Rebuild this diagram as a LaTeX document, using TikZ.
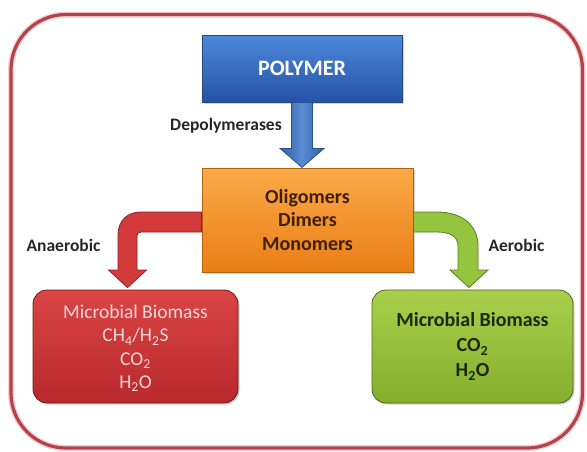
\documentclass[tikz,border=0pt]{standalone}
\usepackage{fontspec}
\setmainfont{Carlito}
\usetikzlibrary{calc,shadows}
\definecolor{frameRed}{HTML}{B5424A}
\definecolor{framePink}{HTML}{F4D0D3}
\definecolor{polyTop}{HTML}{4C88DA}
\definecolor{polyBot}{HTML}{2553A6}
\definecolor{polyLine}{HTML}{24487F}
\definecolor{oraTop}{HTML}{FBAA48}
\definecolor{oraBot}{HTML}{EA7E16}
\definecolor{oraLine}{HTML}{B5620F}
\definecolor{oraText}{HTML}{3E2104}
\definecolor{redTop}{HTML}{DA4545}
\definecolor{redBot}{HTML}{B8282C}
\definecolor{redLine}{HTML}{6E1A1C}
\definecolor{redText}{HTML}{F8DADA}
\definecolor{grnTop}{HTML}{A9D04C}
\definecolor{grnBot}{HTML}{85AE2D}
\definecolor{grnLine}{HTML}{4A6418}
\definecolor{grnText}{HTML}{1C2808}
\definecolor{redArrow}{HTML}{D33A3C}
\definecolor{redArrowLine}{HTML}{8A2224}
\definecolor{grnArrow}{HTML}{95C53F}
\definecolor{grnArrowLine}{HTML}{5C7E20}
\definecolor{bluArrow}{HTML}{3D78CC}
\definecolor{bluArrowLine}{HTML}{27508C}
\tikzset{
  boxbase/.style={inner sep=0pt, align=center, line width=0.8pt,
    drop shadow={opacity=0.35, shadow xshift=1.5pt, shadow yshift=-1.5pt}},
  polybox/.style={boxbase, draw=polyLine, top color=polyTop, bottom color=polyBot,
    minimum width=200pt, minimum height=67pt, text=white,
    font=\fontsize{22}{26}\selectfont\bfseries},
  orabox/.style={boxbase, draw=oraLine, top color=oraTop, bottom color=oraBot,
    minimum width=211pt, minimum height=104pt, text=oraText,
    font=\fontsize{20}{23.5}\selectfont\bfseries},
  redbox/.style={boxbase, rounded corners=14pt, draw=redLine, top color=redTop, bottom color=redBot,
    minimum width=205pt, minimum height=113pt, text=redText,
    font=\fontsize{19.5}{23.3}\selectfont},
  grnbox/.style={boxbase, rounded corners=14pt, draw=grnLine, top color=grnTop, bottom color=grnBot,
    minimum width=201pt, minimum height=113pt, text=grnText,
    font=\fontsize{20}{25}\selectfont\bfseries},
  lbl/.style={inner sep=0pt, font=\fontsize{17.5}{20}\selectfont\bfseries, text=black!85},
  fatarrow/.style={line width=0.8pt, line join=miter}
}
\begin{document}
\begin{tikzpicture}[x=1pt,y=-1pt]
\useasboundingbox (0,0) rectangle (587,451);
% outer frame
\draw[framePink, line width=6pt, rounded corners=55pt] (11,14.5) rectangle (582.5,448);
\draw[frameRed, line width=3.2pt, rounded corners=55pt] (11,14.5) rectangle (582.5,448);

% boxes
\node[polybox] (poly) at (302,68.5) {POLYMER};
\node[orabox] (olig) at (307.5,220) {Oligomers\\Dimers\\Monomers};
\node[redbox] (anbox) at (135.5,346.5) {\rule{0pt}{6pt}\\[-12pt]Microbial Biomass\\CH\textsubscript{4}/H\textsubscript{2}S\\CO\textsubscript{2}\\H\textsubscript{2}O};
\node[grnbox] (aebox) at (472.5,346.5) {Microbial Biomass\\CO\textsubscript{2}\\H\textsubscript{2}O};

% blue arrow (poly -> olig)
\draw[fatarrow, draw=bluArrowLine, left color=bluArrow!80!black, right color=bluArrow!80!black, middle color=bluArrow!85!white]
  ($(poly.south)+(-10.5,0)$) -- ($(poly.south)+(-10.5,46)$) -- ($(poly.south)+(-22,46)$)
  -- ($(poly.south)+(0,65)$) -- ($(poly.south)+(22,46)$) -- ($(poly.south)+(10.5,46)$)
  -- ($(poly.south)+(10.5,0)$) -- cycle;

% red bent arrow (olig -> anbox)
\draw[fatarrow, draw=redArrowLine, fill=redArrow]
  ($(olig.west)+(0,-8)$) -- (141,212) .. controls (127,212) and (118,221) .. (118,235)
  -- (118,270) -- (108.5,270) -- ($(anbox.north)+(-8,-2)$) -- (146.5,270) -- (137,270)
  -- (137,236) .. controls (137,233.5) and (138.5,232) .. (141,232)
  -- ($(olig.west)+(0,12)$) -- cycle;

% green bent arrow (olig -> aebox)
\draw[fatarrow, draw=grnArrowLine, fill=grnArrow]
  ($(olig.east)+(0,-8)$) -- (437,212) .. controls (463,212) and (478,226) .. (478,246)
  -- (478,270) -- (488,270) -- ($(aebox.north)+(-3.5,-2)$) -- (450,270) -- (458,270)
  -- (458,246) .. controls (458,237) and (451,232) .. (437,232)
  -- ($(olig.east)+(0,12)$) -- cycle;

% labels
\node[lbl] (ldep) at (226,126) {Depolymerases};
\node[lbl] (lan) at (63.5,245) {Anaerobic};
\node[lbl] (lae) at (516.5,245) {Aerobic};
\end{tikzpicture}
\end{document}
